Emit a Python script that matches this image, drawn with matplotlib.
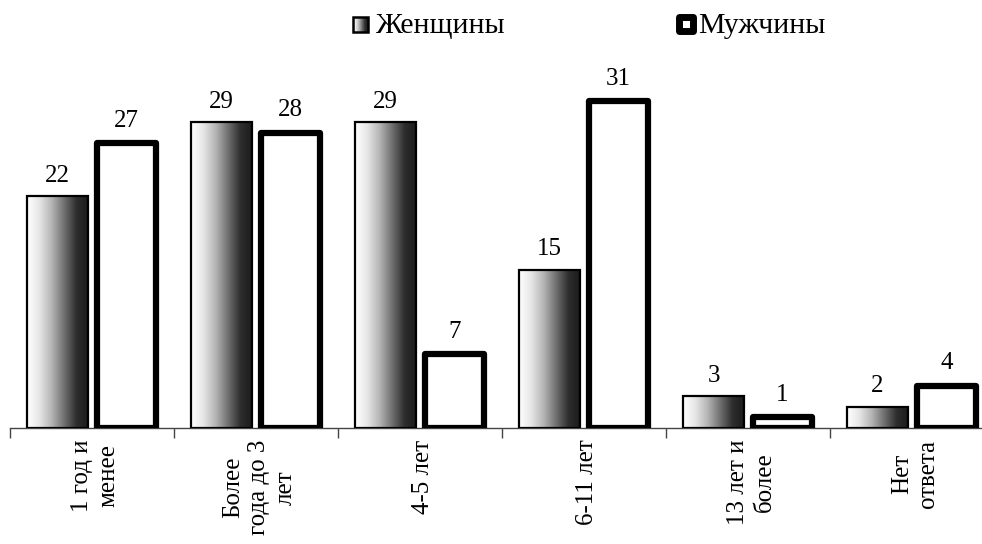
import numpy as np
import matplotlib.pyplot as plt
from matplotlib.colors import LinearSegmentedColormap
from matplotlib.patches import Rectangle

plt.rcParams['font.family'] = 'serif'
plt.rcParams['font.serif'] = ['Liberation Serif', 'Times New Roman', 'DejaVu Serif']

categories = ['1 год и\nменее', 'Более\nгода до 3\nлет', '4-5 лет', '6-11 лет',
              '13 лет и\nболее', 'Нет\nответа']
women = [22, 29, 29, 15, 3, 2]
men = [27, 28, 7, 31, 1, 4]
series_names = ['Женщины', 'Мужчины']

grad = LinearSegmentedColormap.from_list(
    'grad', ['#ffffff', '#e6e6e6', '#b4b4b4', '#707070', '#2e2e2e', '#1a1a1a'])
ramp = np.linspace(0, 1, 256).reshape(1, -1)

fig = plt.figure(figsize=(9.82, 5.44), dpi=100)
ax = fig.add_axes([10 / 982, 116 / 544, 984 / 982, 369 / 544])

x = np.arange(len(categories))
w = 0.375
off = 0.21

# women: gradient bars with thin outline
for xi, v in zip(x, women):
    x0 = xi - off - w / 2
    ax.imshow(ramp, cmap=grad, aspect='auto', extent=(x0, x0 + w, 0, v),
              zorder=2, interpolation='bilinear')
    ax.add_patch(Rectangle((x0, 0), w, v, facecolor='none', edgecolor='black',
                           linewidth=1.6, zorder=3))
    ax.text(xi - off, v + 0.9, str(v), ha='center', va='bottom', fontsize=18)

# men: white bars with heavy outline
bars = ax.bar(x + off, men, width=w - 0.02, color='white', edgecolor='black',
              linewidth=4.5, zorder=3)
for b in bars:
    b.set_joinstyle('round')
for xi, v in zip(x, men):
    ax.text(xi + off, v + 1.1, str(v), ha='center', va='bottom', fontsize=18)

ax.set_xlim(-0.5, len(categories) - 0.5)
ax.set_ylim(0, 35)

for s in ['top', 'right', 'left']:
    ax.spines[s].set_visible(False)
ax.spines['bottom'].set_color('#444444')
ax.spines['bottom'].set_linewidth(1.0)
ax.set_yticks([])
ax.set_xticks(np.arange(-0.5, len(categories), 1.0))
ax.set_xticklabels([])
ax.tick_params(axis='x', direction='out', length=7, width=1.0, color='#444444')

for xi, lab in zip(x, categories):
    ax.text(xi + 0.02, -1.1, lab, rotation=90, ha='center', va='top',
            multialignment='center', fontsize=18, linespacing=1.25)

# legend
lax = fig.add_axes([353 / 982, 1 - 32 / 544, 15 / 982, 15 / 544])
lax.imshow(ramp, cmap=grad, aspect='auto', extent=(0, 1, 0, 1))
lax.add_patch(Rectangle((0, 0), 1, 1, facecolor='none', edgecolor='black',
                        linewidth=1.8, transform=lax.transAxes, clip_on=False))
lax.set_axis_off()
fig.text(376 / 982, 1 - 33 / 544, series_names[0], ha='left', va='baseline', fontsize=21.5)

fig.patches.append(Rectangle((679 / 982, 1 - 31 / 544), 14 / 982, 14 / 544,
                             facecolor='white', edgecolor='black', linewidth=5.0,
                             joinstyle='round', transform=fig.transFigure, figure=fig))
fig.text(698 / 982, 1 - 33 / 544, series_names[1], ha='left', va='baseline', fontsize=21.5)

fig.savefig('out.png', dpi=100)
